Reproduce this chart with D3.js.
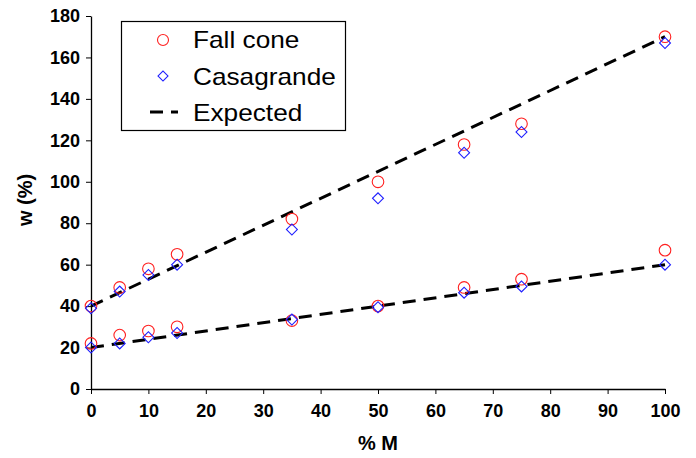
<!DOCTYPE html>
<html><head><meta charset="utf-8">
<script src="https://cdn.jsdelivr.net/npm/d3@7"></script>
<style>body{margin:0;background:#fff}svg{display:block}text{font-family:"Liberation Sans",Arial,sans-serif}</style>
</head><body>
<svg id="c" width="696" height="458"></svg>
<script>
const xVals = [0, 5, 10, 15, 35, 50, 65, 75, 100];
const fallConeUpper = [40, 49, 58, 65, 82, 100, 118, 128, 170];
const casaUpper = [39, 47, 55, 60, 77, 92, 114, 124, 167];
const fallConeLower = [22, 26, 28, 30, 33, 40, 49, 53, 67];
const casaLower = [20, 22, 25, 27, 33.5, 39.5, 46.5, 49.5, 60];
const expectedUpper = [[0, 40], [100, 170]];
const expectedLower = [[0, 20], [100, 60]];
const xTicks = [0,10,20,30,40,50,60,70,80,90,100];
const yTicks = [0,20,40,60,80,100,120,140,160,180];

const svg = d3.select("#c");
const x = d3.scaleLinear().domain([0,100]).range([91,665]);
const y = d3.scaleLinear().domain([0,180]).range([389,16]);

const xAxis = svg.append("g").attr("transform","translate(0,389)")
  .call(d3.axisBottom(x).tickValues(xTicks).tickSize(5).tickSizeOuter(0).tickPadding(10));
const yAxis = svg.append("g").attr("transform","translate(91,0)")
  .call(d3.axisLeft(y).tickValues(yTicks).tickSize(5).tickSizeOuter(0).tickPadding(6));
[xAxis,yAxis].forEach(a=>{
  a.select(".domain").attr("stroke","#000").attr("stroke-width",1.3);
  a.selectAll(".tick line").attr("stroke","#000").attr("stroke-width",1);
  a.selectAll("text").attr("fill","#000").style("font-size","18px").style("font-weight","bold")
   .style("font-family","'Liberation Sans',Arial,sans-serif");
});

const line = d3.line().x(d=>x(d[0])).y(d=>y(d[1]));
[expectedUpper, expectedLower].forEach(d=>{
  svg.append("path").attr("d",line(d)).attr("fill","none").attr("stroke","#000")
    .attr("stroke-width",3).attr("stroke-dasharray","13,8");
});

function circles(vals){
  svg.append("g").selectAll("circle").data(xVals.map((v,i)=>[v,vals[i]])).join("circle")
    .attr("cx",d=>x(d[0])).attr("cy",d=>y(d[1])).attr("r",5.8)
    .attr("fill","none").attr("stroke","#ff2020").attr("stroke-width",1.1);
}
const diamond = d3.symbol().type(d3.symbolSquare).size(60);
function diamonds(vals){
  svg.append("g").selectAll("path").data(xVals.map((v,i)=>[v,vals[i]])).join("path")
    .attr("d",diamond).attr("transform",d=>`translate(${x(d[0])},${y(d[1])}) rotate(45)`)
    .attr("fill","none").attr("stroke","#2020ff").attr("stroke-width",1.1);
}
circles(fallConeUpper); circles(fallConeLower);
diamonds(casaUpper); diamonds(casaLower);

// legend
const lg = svg.append("g");
lg.append("rect").attr("x",121.5).attr("y",21.5).attr("width",224).attr("height",109)
  .attr("fill","#fff").attr("stroke","#000").attr("stroke-width",1.2);
lg.append("circle").attr("cx",163).attr("cy",40).attr("r",5.5).attr("fill","none").attr("stroke","#ff2020").attr("stroke-width",1.1);
lg.append("path").attr("d",d3.symbol().type(d3.symbolSquare).size(50)).attr("transform","translate(163,76) rotate(45)")
  .attr("fill","none").attr("stroke","#2020ff").attr("stroke-width",1.1);
lg.append("line").attr("x1",150).attr("x2",178).attr("y1",112).attr("y2",112).attr("stroke","#000")
  .attr("stroke-width",3).attr("stroke-dasharray","13,8");
const labels = ["Fall cone","Casagrande","Expected"];
labels.forEach((t,i)=>{
  lg.append("text").attr("transform",`translate(193,${48+i*36.5}) scale(1.14,1)`)
    .attr("font-size","23px").attr("fill","#000").text(t);
});

svg.append("text").attr("x",378).attr("y",450).attr("text-anchor","middle")
  .attr("font-size","20px").attr("font-weight","bold").text("% M");
svg.append("text").attr("transform","translate(32,200) rotate(-90)").attr("text-anchor","middle")
  .attr("font-size","20px").attr("font-weight","bold").text("w (%)");
</script>
</body></html>
